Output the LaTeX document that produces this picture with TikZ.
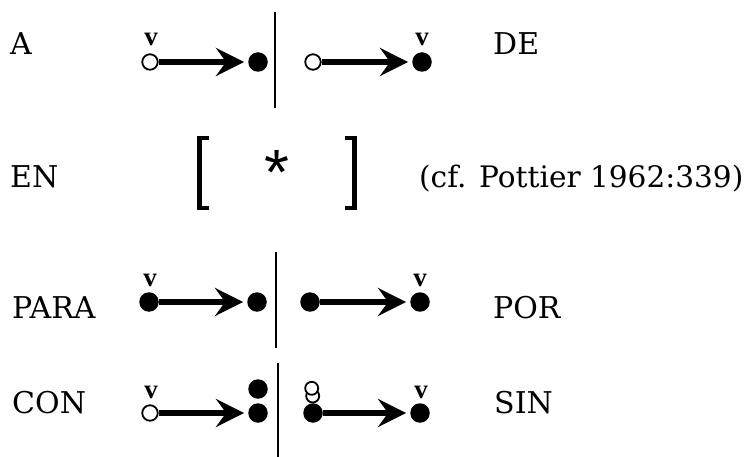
\documentclass[tikz,border=0pt]{standalone}
\usepackage{fontspec}
\setmainfont{DejaVu Serif}
\newfontfamily\vfamily{Liberation Serif}
\newfontfamily\starfamily{Liberation Sans}
\usetikzlibrary{arrows.meta}

\newcommand{\lblfont}{\fontsize{30}{35}\selectfont}
\newcommand{\vmarkfont}{\vfamily\bfseries\fontsize{27}{29}\selectfont}

\tikzset{
  lbl/.style={anchor=base west, inner sep=0pt, font=\lblfont},
  vmark/.style={inner sep=0pt, font=\vmarkfont},
  opendot/.style={circle, draw, fill=white, line width=1.8pt, minimum size=15.5pt, inner sep=0pt},
  smallopen/.style={opendot, minimum size=13pt},
  fulldot/.style={circle, fill=black, minimum size=19.5pt, inner sep=0pt},
  arr/.style={line width=5.2pt, -{Stealth[length=28pt, width=28pt, inset=10pt]}, shorten >=4pt},
  divider/.style={line width=2pt},
  bracket/.style={line width=4.8pt, line cap=butt, line join=miter},
}

\begin{document}
\begin{tikzpicture}[x=1pt, y=-1pt]
  \useasboundingbox (0,0) rectangle (747,457);

  % ---- A / DE ----
  \node[lbl] (lA) at (10,55) {A};
  \node[lbl] (lDE) at (493,55) {DE};
  \node[opendot] (a1) at (150,62) {};
  \node[fulldot] (a2) at (258,62) {};
  \node[vmark] (va1) at (151,39) {v};
  \draw[arr] (a1) -- (a2);
  \coordinate (sA1) at (275,12);
  \coordinate (sA2) at (275,108);
  \draw[divider] (sA1) -- (sA2);
  \node[opendot] (d1) at (313,62) {};
  \node[fulldot] (d2) at (422,62) {};
  \node[vmark] (vd2) at (422,39) {v};
  \draw[arr] (d1) -- (d2);

  % ---- EN ----
  \node[lbl] (lEN) at (10,188) {EN};
  \coordinate (bl) at (209,138);
  \coordinate (br) at (345,138);
  \draw[bracket] (bl) -- ++(-9.5,0) -- ++(0,70) -- ++(9.5,0);
  \draw[bracket] (br) -- ++(9.5,0) -- ++(0,70) -- ++(-9.5,0);
  \node[inner sep=0pt, font=\starfamily\fontsize{64}{64}\selectfont] (star) at (277,172) {*};
  \node[lbl, font=\fontsize{29.6}{35}\selectfont] (cite) at (419,188) {(cf. Pottier 1962:339)};

  % ---- PARA / POR ----
  \node[lbl] (lPARA) at (12,318) {PARA};
  \node[lbl] (lPOR) at (493,318) {POR};
  \node[fulldot] (p1) at (149,302) {};
  \node[fulldot] (p2) at (257,302) {};
  \node[vmark] (vp1) at (150,280) {v};
  \draw[arr] (p1) -- (p2);
  \coordinate (sP1) at (276,252);
  \coordinate (sP2) at (276,348);
  \draw[divider] (sP1) -- (sP2);
  \node[fulldot] (r1) at (310,302) {};
  \node[fulldot] (r2) at (420,302) {};
  \node[vmark] (vr2) at (420,280) {v};
  \draw[arr] (r1) -- (r2);

  % ---- CON / SIN ----
  \node[lbl] (lCON) at (12,413) {CON};
  \node[lbl] (lSIN) at (494,413) {SIN};
  \node[opendot] (c1) at (150,413) {};
  \node[fulldot] (c2) at (258,413) {};
  \node[fulldot] (c3) at (258,389) {};
  \node[vmark] (vc1) at (151,392) {v};
  \draw[arr] (c1) -- (c2);
  \coordinate (sC1) at (278,363);
  \coordinate (sC2) at (278,457);
  \draw[divider] (sC1) -- (sC2);
  \node[smallopen] (s0b) at (312.7,396) {};
  \node[smallopen] (s0a) at (311.7,388.3) {};
  \node[fulldot] (s1) at (313,413) {};
  \node[fulldot] (s2) at (420,413) {};
  \node[vmark] (vs2) at (421,392) {v};
  \draw[arr] (s1) -- (s2);
\end{tikzpicture}
\end{document}
